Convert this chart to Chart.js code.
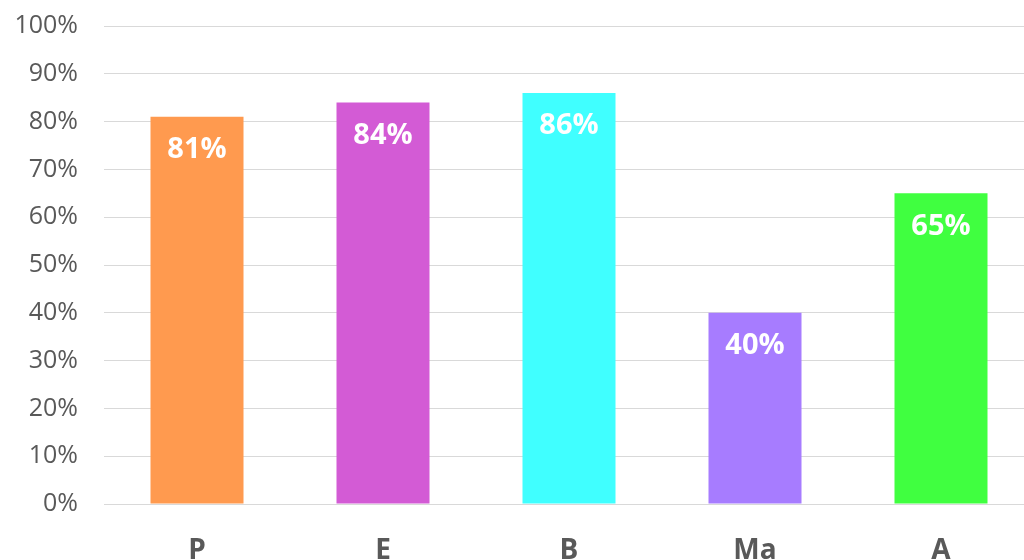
<!DOCTYPE html>
<html lang="en">
<head>
  <meta charset="UTF-8" />
  <title>Scores</title>
  <script src="https://cdn.jsdelivr.net/npm/chart.js"></script>
  <style>
    html, body {
      margin: 0;
      padding: 0;
      background: #fff;
      overflow: hidden;
    }

    .chart-container {
      width: 1040px;
      height: 560px;
    }
  </style>
</head>
<body>

  <div class="chart-container"><canvas id="scoreChart"></canvas></div>

  <script>
    const categories = ['P', 'E', 'B', 'Ma', 'A'];
    const scores = [81, 84, 86, 40, 65];
    const barColors = ['#FF9A4F', '#D35BD5', '#40FFFF', '#A77CFF', '#40FF40'];

    // white percentage labels just inside the top of each bar
    const barLabels = {
      id: 'barLabels',
      afterDatasetsDraw(chart) {
        const ctx = chart.ctx;
        const meta = chart.getDatasetMeta(0);
        ctx.save();
        ctx.fillStyle = '#ffffff';
        ctx.font = 'bold 29px "Open Sans", sans-serif';
        ctx.textAlign = 'center';
        ctx.textBaseline = 'middle';
        meta.data.forEach((bar, i) => {
          ctx.fillText(scores[i] + '%', bar.x, bar.y + 33);
        });
        ctx.restore();
      }
    };

    new Chart(document.getElementById('scoreChart'), {
      type: 'bar',
      data: {
        labels: categories,
        datasets: [{
          data: scores,
          backgroundColor: barColors,
          borderWidth: 0,
          barPercentage: 0.5,
          categoryPercentage: 1.0
        }]
      },
      options: {
        responsive: true,
        maintainAspectRatio: false,
        animation: false,
        layout: { padding: { top: 7, right: 6, left: 0, bottom: 0 } },
        plugins: {
          legend: { display: false },
          tooltip: { enabled: false }
        },
        scales: {
          x: {
            grid: { display: false, drawTicks: false },
            border: { display: false },
            ticks: {
              color: '#595959',
              padding: 30,
              font: { family: 'Open Sans', size: 28, weight: 'bold' }
            },
            afterFit(scale) { scale.height = 56; }
          },
          y: {
            min: 0,
            max: 100,
            grid: { color: '#d9d9d9', lineWidth: 1, drawTicks: false },
            border: { display: false },
            ticks: {
              stepSize: 10,
              color: '#595959',
              padding: 26,
              // lineHeight 0 so the top label doesn't push the plot down
              font: { family: 'Open Sans', size: 25, lineHeight: 0 },
              callback: v => v + '%'
            },
            afterFit(scale) { scale.width = 104; }
          }
        }
      },
      plugins: [barLabels]
    });
  </script>

</body>
</html>
